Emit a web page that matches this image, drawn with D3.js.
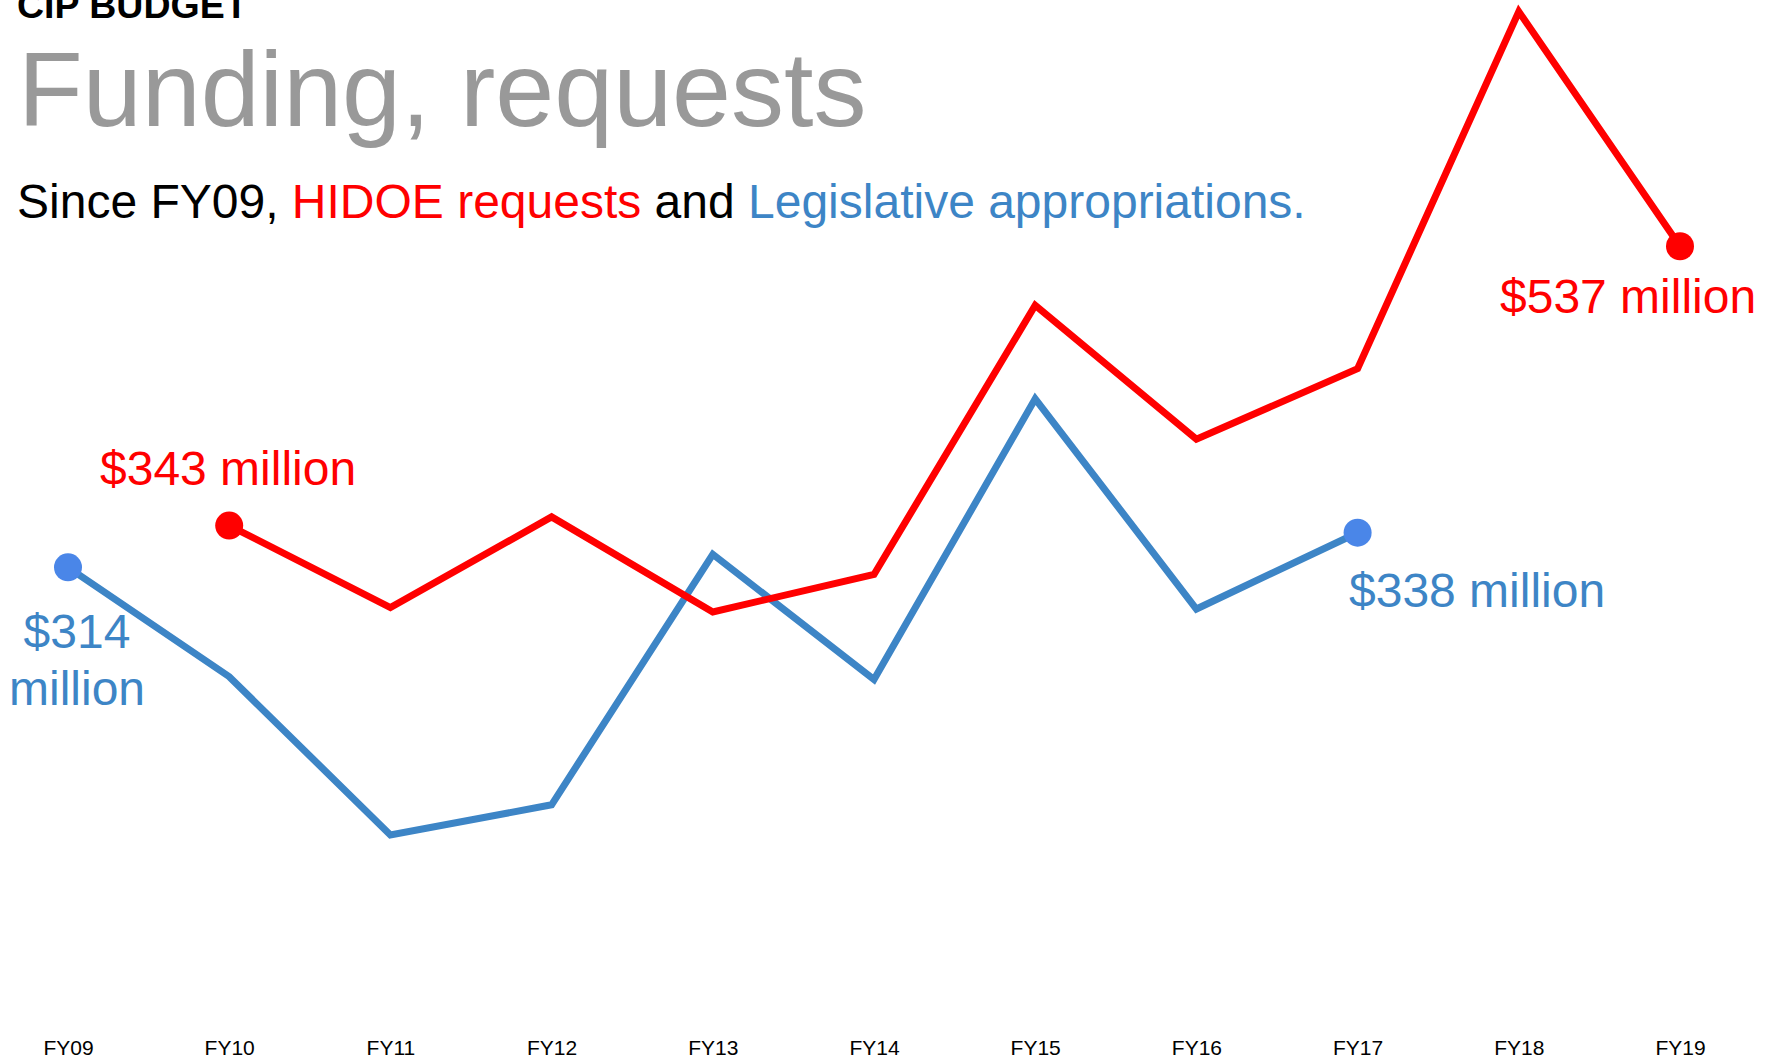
<!DOCTYPE html>
<html>
<head>
<meta charset="utf-8">
<script src="https://cdn.jsdelivr.net/npm/d3@7"></script>
<style>
  html, body { margin: 0; padding: 0; background: #fff; }
  svg { display: block; font-family: "Liberation Sans", Arial, sans-serif; }
</style>
</head>
<body>
<svg id="chart" width="1771" height="1058"></svg>
<script>
// Data (millions of dollars)
const years = ["FY09","FY10","FY11","FY12","FY13","FY14","FY15","FY16","FY17","FY18","FY19"];
const appropriations = [314, 238, 128, 149, 323, 236, 431, 285, 338, null, null];
const requests = [null, 343, 286, 349, 283, 309, 496, 403, 452, 700, 537];
const tickLabels = years;

const blueLine = "#3d85c6";
const blueDot = "#4a86e8";
const red = "#ff0000";

const svg = d3.select("#chart");

const x = d3.scalePoint().domain(years).range([68, 1680]);
const y = d3.scaleLinear().domain([0, 700]).range([1019.3, 11.6]);

// Titles
svg.append("text").attr("x", 17).attr("y", 17.5)
  .attr("font-size", 37.5).attr("font-weight", "bold").attr("fill", "#000")
  .text("CIP BUDGET");

svg.append("text").attr("x", 18).attr("y", 126)
  .attr("font-size", 106).attr("fill", "#999999")
  .text("Funding, requests");

const sub = svg.append("text").attr("x", 17).attr("y", 218).attr("font-size", 48).attr("fill", "#000");
sub.append("tspan").text("Since FY09, ");
sub.append("tspan").attr("fill", red).text("HIDOE requests");
sub.append("tspan").text(" and ");
sub.append("tspan").attr("fill", blueLine).text("Legislative appropriations.");

// X axis labels
const axis = d3.axisBottom(x).tickSize(0).tickFormat((d, i) => tickLabels[i]);
const gx = svg.append("g").attr("transform", "translate(0,1037)").call(axis);
gx.select(".domain").remove();
gx.selectAll("text").attr("font-size", 21).attr("fill", "#000")
  .attr("font-family", "\"Liberation Sans\", Arial, sans-serif");

// Lines
const line = d3.line()
  .defined(d => d.v !== null)
  .x(d => x(d.k))
  .y(d => y(d.v));

const blueData = years.map((k, i) => ({k, v: appropriations[i]}));
const redData = years.map((k, i) => ({k, v: requests[i]}));

svg.append("path").datum(blueData).attr("d", line)
  .attr("fill", "none").attr("stroke", blueLine).attr("stroke-width", 7)
  .attr("stroke-linejoin", "miter");
svg.append("path").datum(redData).attr("d", line)
  .attr("fill", "none").attr("stroke", red).attr("stroke-width", 7)
  .attr("stroke-linejoin", "miter");

// End dots
const blueEnds = [blueData[0], blueData[8]];
const redEnds = [redData[1], redData[10]];
svg.selectAll(".bdot").data(blueEnds).join("circle")
  .attr("cx", d => x(d.k)).attr("cy", d => y(d.v)).attr("r", 14).attr("fill", blueDot);
svg.selectAll(".rdot").data(redEnds).join("circle")
  .attr("cx", d => x(d.k)).attr("cy", d => y(d.v)).attr("r", 14).attr("fill", red);

// Annotations
svg.append("text").attr("x", 100).attr("y", 485).attr("font-size", 48).attr("fill", red)
  .text("$343 million");
svg.append("text").attr("x", 1500).attr("y", 313).attr("font-size", 48).attr("fill", red)
  .text("$537 million");
svg.append("text").attr("x", 1349).attr("y", 607).attr("font-size", 48).attr("fill", blueLine)
  .text("$338 million");
const lab = svg.append("text").attr("x", 77).attr("y", 648).attr("font-size", 48)
  .attr("fill", blueLine).attr("text-anchor", "middle");
lab.append("tspan").attr("x", 77).text("$314");
lab.append("tspan").attr("x", 77).attr("dy", 57).text("million");
</script>
</body>
</html>
